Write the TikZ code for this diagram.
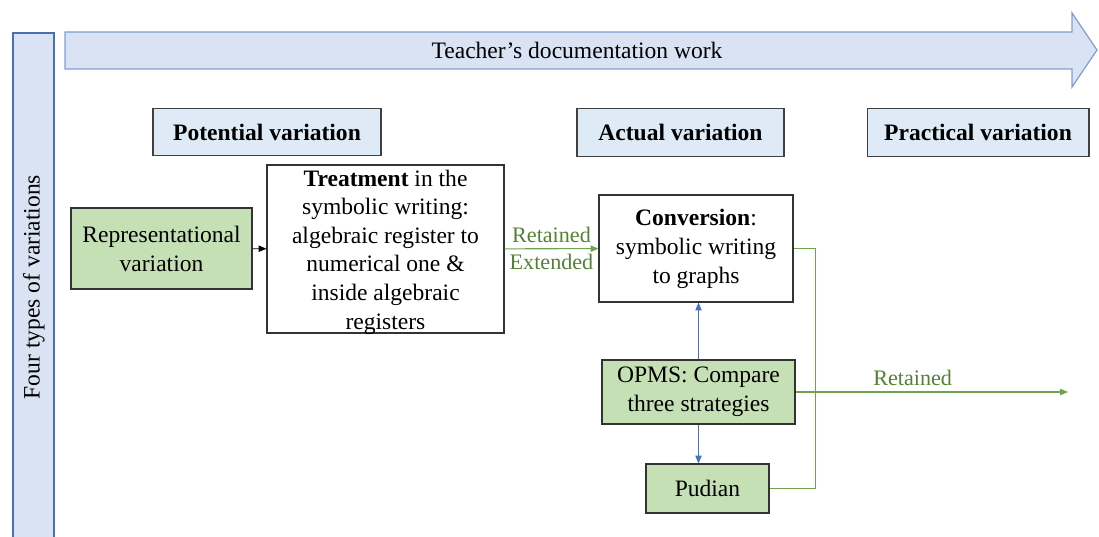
\documentclass[tikz,border=0pt]{standalone}
\usepackage{fontspec}
\setmainfont{Liberation Serif}
\usepackage{xcolor}
\usetikzlibrary{positioning,arrows.meta}
\definecolor{bandfill}{HTML}{DAE3F3}
\definecolor{bandline}{HTML}{7F9FD4}
\definecolor{barline}{HTML}{4A6FB5}
\definecolor{headfill}{HTML}{DEEBF7}
\definecolor{greenfill}{HTML}{C5E0B4}
\definecolor{greentext}{HTML}{548235}
\definecolor{greenline}{HTML}{6FA350}
\definecolor{bluearrow}{HTML}{4472C4}

\begin{document}
\begin{tikzpicture}[x=0.02cm,y=-0.02cm,>={Triangle[length=4.5pt,width=3.6pt]},
  every node/.style={font=\fontsize{13.4}{16.5}\selectfont,inner sep=2pt},
  headbox/.style={draw=black!75,fill=headfill,line width=0.6pt,minimum height=0.95cm,font=\fontsize{13.4}{16.5}\selectfont\bfseries},
  stagebox/.style={draw=black!80,line width=0.6pt,align=center},
  greenbox/.style={stagebox,fill=greenfill},
  edgelabel/.style={text=greentext,font=\fontsize{12.6}{15}\selectfont}]
\useasboundingbox (0,0) rectangle (1099,537);
% documentation band and variation bar
\draw[bandline,fill=bandfill,line width=0.7pt] (65,32) -- (1072,32) -- (1072,13) -- (1097,50) -- (1072,87) -- (1072,69) -- (65,69) -- cycle;
\node (docwork) at (577,50) {Teacher’s documentation work};
\draw[barline,fill=bandfill,line width=0.7pt] (13,545) -- (13,33) -- (54,33) -- (54,545);
\node[rotate=90] (fourtypes) at (34,287) {Four types of variations};
% headers
\node[headbox,minimum width=4.56cm] (potential) at (267,132) {Potential variation};
\node[headbox,minimum width=4.14cm] (actual) at (680.5,132.5) {Actual variation};
\node[headbox,minimum width=4.44cm] (practical) at (978,132.5) {Practical variation};
% boxes
\node[greenbox,minimum width=3.62cm,minimum height=1.62cm] (repr) at (161.5,248.5) {Representational\\variation};
\node[stagebox,minimum width=4.74cm,minimum height=3.36cm] (treat) at (385.5,249) {};
\node[align=center,inner sep=0pt,font=\fontsize{13.4}{16.3}\selectfont] (treattext) at (385.5,252) {\textbf{Treatment} in the\\symbolic writing:\\algebraic register to\\numerical one \&\\inside algebraic\\registers};
\node[stagebox,minimum width=3.88cm,minimum height=2.14cm] (conv) at (696,248.5) {\textbf{Conversion}:\\symbolic writing\\to graphs};
\node[greenbox,minimum width=3.86cm,minimum height=1.28cm] (opms) at (698.5,392) {OPMS: Compare\\three strategies};
\node[greenbox,minimum width=2.46cm,minimum height=0.98cm] (pudian) at (707.5,488.5) {Pudian};
\coordinate (practend) at (1068,392);
% connectors
\draw[->,line width=0.5pt] (repr) -- (treat);
\draw[->,greenline,line width=0.6pt] (treat) -- (conv)
  node[midway,above=1pt,edgelabel]{Retained} node[midway,below=0.5pt,edgelabel]{Extended};
\draw[->,bluearrow,line width=0.5pt] (opms.north) -- (opms.north |- conv.south);
\draw[->,bluearrow,line width=0.5pt] (opms.south) -- (opms.south |- pudian.north);
\draw[greenline,line width=0.6pt] (conv.east) -- ++(22,0) |- (pudian.east);
\draw[->,greenline,line width=0.6pt] (opms.east) -- (practend) node[pos=0.43,above=1.5pt,edgelabel]{Retained};
\end{tikzpicture}
\end{document}
